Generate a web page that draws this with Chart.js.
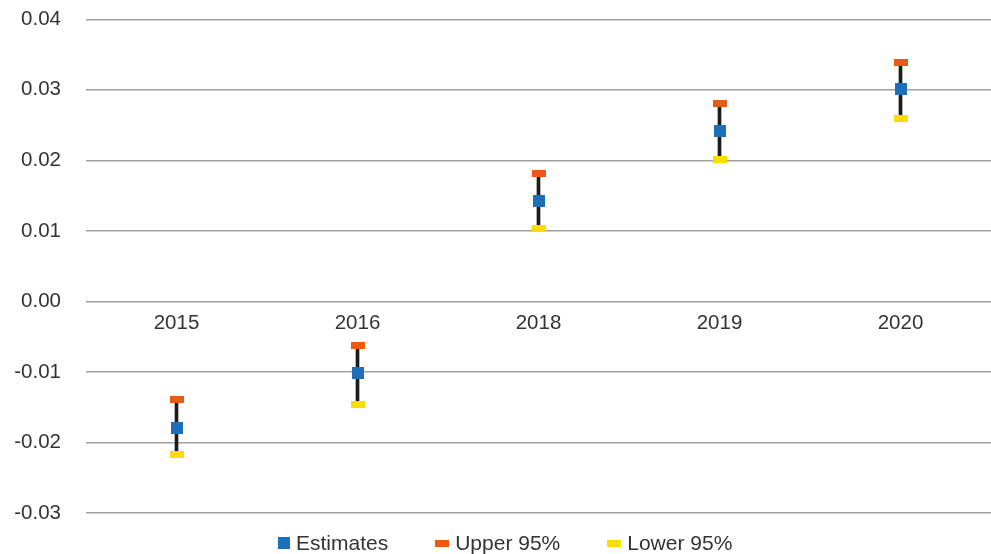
<!DOCTYPE html>
<html>
<head>
<meta charset="utf-8">
<script src="https://cdn.jsdelivr.net/npm/chart.js@4.4.1/dist/chart.umd.min.js"></script>
<style>
  html, body { margin: 0; padding: 0; background: #fff; }
  #wrap { position: relative; width: 991px; height: 554px; overflow: hidden; }
  #ci_chart { position: absolute; left: 0; top: -18px; }
  #legend { position: absolute; left: 278px; top: 531px; height: 24px; display: flex; align-items: center;
            font-family: "Liberation Sans", Arial, sans-serif; font-size: 21px; color: #333; }
  #legend .item { display: flex; align-items: center; margin-right: 47px; }
  #legend .mk { display: inline-block; margin-right: 6px; }
</style>
</head>
<body>
<div id="wrap">
  <canvas id="ci_chart" width="999" height="572"></canvas>
  <div id="legend"></div>
</div>
<script>
// values
const years = ['2015', '2016', '2018', '2019', '2020'];
const estimates = [-0.0179, -0.0102, 0.0142, 0.0241, 0.0301];
const upper95 = [-0.0139, -0.0062, 0.0182, 0.0280, 0.0339];
const lower95 = [-0.0217, -0.0146, 0.0104, 0.0201, 0.0260];
const yTicks = [-0.03, -0.02, -0.01, 0.00, 0.01, 0.02, 0.03, 0.04];

const BLUE = '#1e6fb9';
const ORANGE = '#eb5b0f';
const YELLOW = '#ffdc00';
const FONT = { family: '"Liberation Sans", Arial, sans-serif', size: 20.5 };

// small canvas markers used as point styles
function marker(w, h, color) {
    let c = document.createElement('canvas');
    c.width = w;
    c.height = h;
    let g = c.getContext('2d');
    g.fillStyle = color;
    g.fillRect(0, 0, w, h);
    return c;
}
const estMark = marker(12, 12, BLUE);
const upMark = marker(14, 7, ORANGE);
const lowMark = marker(14, 7, YELLOW);

// range bars (lower -> upper) drawn as thin floating bars
let ranges = [];
for (let i = 0; i < years.length; i++) {
    ranges.push([lower95[i], upper95[i]]);
}

let ctx = document.getElementById('ci_chart').getContext('2d');
const ciChart = new Chart(ctx, {
    type: 'bar',
    data: {
        labels: years,
        datasets: [
            { type: 'line', label: 'Estimates', data: estimates, showLine: false,
              pointStyle: estMark, pointRadius: 7, order: 1 },
            { type: 'line', label: 'Upper 95%', data: upper95, showLine: false,
              pointStyle: upMark, pointRadius: 7, order: 2 },
            { type: 'line', label: 'Lower 95%', data: lower95, showLine: false,
              pointStyle: lowMark, pointRadius: 7, order: 3 },
            { type: 'bar', label: 'range', data: ranges, backgroundColor: '#1c1c1c',
              barThickness: 3, order: 10 }
        ]
    },
    options: {
        responsive: false,
        animation: false,
        layout: { padding: { top: 0, right: 0, bottom: 41, left: 0 } },
        plugins: {
            legend: { display: false },
            tooltip: { enabled: false }
        },
        scales: {
            x: {
                position: { y: 0 },
                offset: true,
                grid: { display: false },
                border: { display: false },
                ticks: { font: FONT, color: '#333', padding: 2 }
            },
            y: {
                min: yTicks[0],
                max: yTicks[yTicks.length - 1],
                afterFit: function (scale) { scale.width = 86; },
                afterBuildTicks: function (scale) {
                    scale.ticks = yTicks.map(v => ({ value: v }));
                },
                grid: { color: '#a0a0a0', lineWidth: 1.5, drawTicks: false },
                border: { display: false },
                ticks: {
                    font: FONT,
                    color: '#333',
                    padding: 25,
                    callback: v => (Math.abs(v) < 1e-9 ? 0 : v).toFixed(2)
                }
            }
        }
    }
});

// legend below the plot
const legendItems = [
    { text: 'Estimates', color: BLUE, w: 12, h: 12 },
    { text: 'Upper 95%', color: ORANGE, w: 14, h: 7 },
    { text: 'Lower 95%', color: YELLOW, w: 14, h: 7 }
];
let lg = document.getElementById('legend');
legendItems.forEach(function (it) {
    let item = document.createElement('span');
    item.className = 'item';
    let mk = document.createElement('span');
    mk.className = 'mk';
    mk.style.width = it.w + 'px';
    mk.style.height = it.h + 'px';
    mk.style.background = it.color;
    item.appendChild(mk);
    item.appendChild(document.createTextNode(it.text));
    lg.appendChild(item);
});
</script>
</body>
</html>
